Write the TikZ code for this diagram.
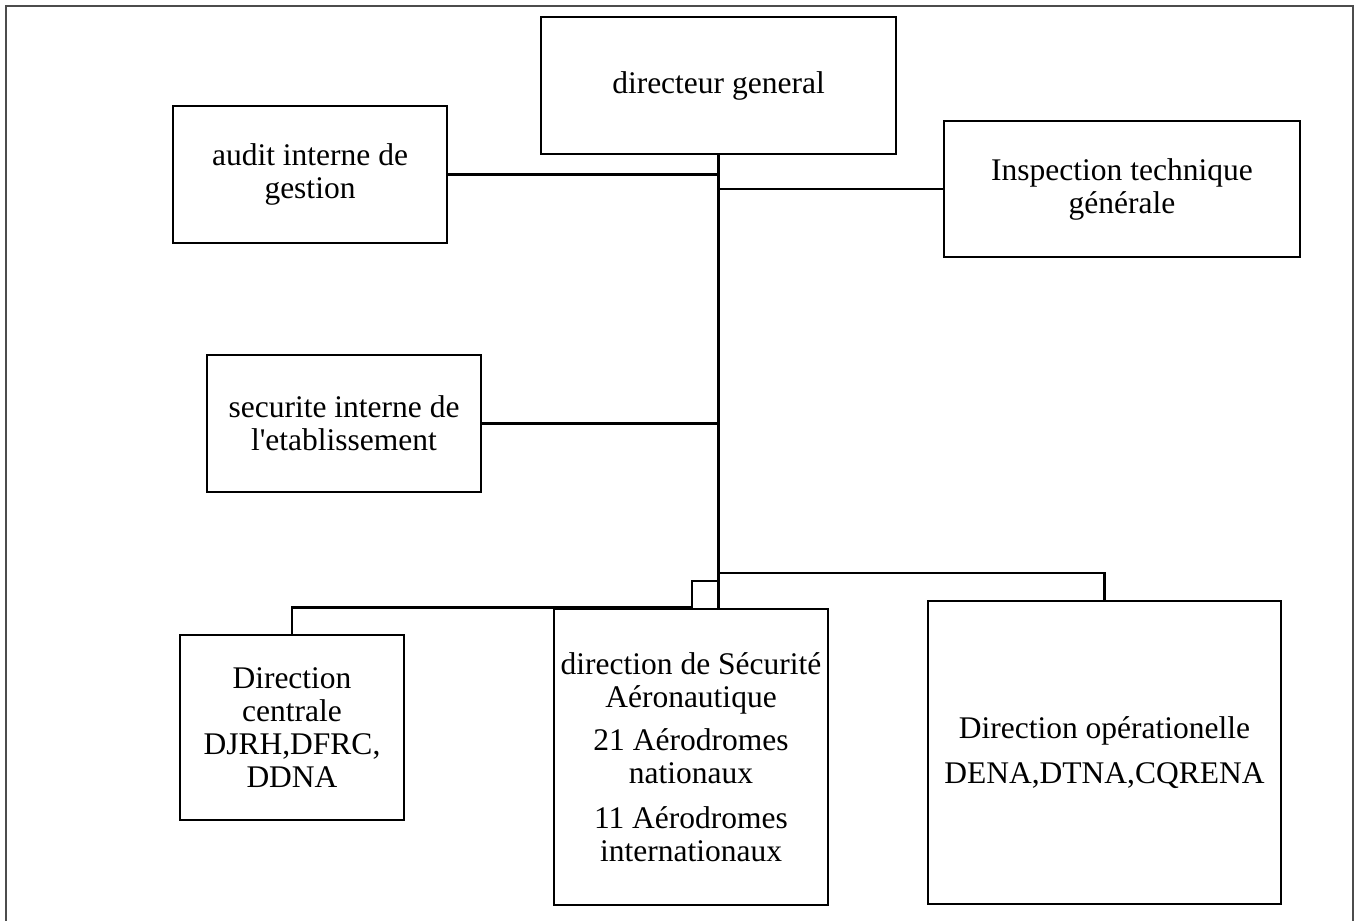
\documentclass[tikz,border=0pt]{standalone}
\usepackage{fontspec}
\setmainfont{Liberation Serif}
\begin{document}
\begin{tikzpicture}[x=1pt,y=-1pt,
  box/.style={draw=black, line width=2.5pt, rectangle, inner sep=0pt, align=center,
    font=\fontsize{31.5}{33}\selectfont},
  link/.style={draw=black, line width=2.5pt},
  frame/.style={draw=black!70, line width=1.4pt}]
\useasboundingbox (0,0) rectangle (1358,921);
\draw[frame] (6,930) -- (6,6) -- (1353,6) -- (1353,930);

\node[box, minimum width=355pt, minimum height=137pt] (dg) at (718.5,85.5) {directeur general};
\node[box, minimum width=274pt, minimum height=137pt] (audit) at (310,174.5) {audit interne de\\gestion};
\node[box, minimum width=356pt, minimum height=136pt] (insp) at (1122,189) {Inspection technique\\générale};
\node[box, minimum width=274pt, minimum height=137pt] (sec) at (344,423.5) {securite interne de\\l\textquotesingle etablissement};
\node[box, minimum width=224pt, minimum height=185pt] (dc) at (292,727.5) {Direction\\centrale\\DJRH,DFRC,\\DDNA};
\node[box, minimum width=274pt, minimum height=296pt] (dsa) at (691,757) {direction de Sécurité\\Aéronautique\\[10pt]21 Aérodromes\\nationaux\\[12pt]11 Aérodromes\\internationaux};
\node[box, minimum width=353pt, minimum height=303pt] (dop) at (1104.5,752.5) {Direction opérationelle\\[12pt]DENA,DTNA,CQRENA};

\coordinate (jo) at (718,573);
\coordinate (js) at (718,581);
\coordinate (jc) at (692,607.5);

\draw[link] (dg.south) -- (dg.south |- dsa.north);
\draw[link] (audit.east) -- (audit.east -| dg.south);
\draw[link] (insp.west) -- (insp.west -| dg.south);
\draw[link] (sec.east) -- (sec.east -| dg.south);
\draw[link] (jo) -| (dop.north);
\draw[link] (js) -| (jc);
\draw[link] (jc) -| (dc.north);
\end{tikzpicture}
\end{document}
